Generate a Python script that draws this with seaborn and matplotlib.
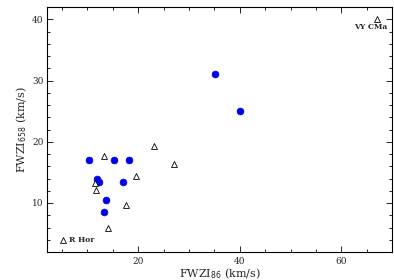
import matplotlib
matplotlib.use("Agg")
import matplotlib.pyplot as plt
import seaborn as sns
import pandas as pd
from matplotlib.ticker import MultipleLocator

circle_x = [35.1, 40.1, 10.2, 15.3, 18.1, 11.9, 12.3, 17.0, 13.7, 13.3]
circle_y = [31.0, 25.0, 17.0, 17.0, 17.0, 14.0, 13.5, 13.5, 10.5, 8.6]
tri_x = [13.3, 23.1, 27.1, 19.6, 11.5, 11.7, 17.6, 14.1, 5.1, 67.1]
tri_y = [17.7, 19.3, 16.4, 14.4, 13.2, 12.1, 9.7, 6.0, 4.0, 40.1]
labels = {"R Hor": (5.1, 4.0), "VY CMa": (67.1, 40.1)}

sns.set_theme(style="ticks")
plt.rcParams["font.family"] = ["DejaVu Serif"]

df_c = pd.DataFrame({"x": circle_x, "y": circle_y})
df_t = pd.DataFrame({"x": tri_x, "y": tri_y})

fig = plt.figure(figsize=(3.94, 2.80), dpi=100)
ax = fig.add_axes([0.119, 0.10, 0.876, 0.875])

sns.scatterplot(data=df_c, x="x", y="y", ax=ax, marker="o", s=24,
                color="#0000ee", edgecolor="#0000ee", linewidth=0.5, zorder=3)
sns.scatterplot(data=df_t, x="x", y="y", ax=ax, marker="^", s=18,
                facecolor="white", edgecolor="black", linewidth=0.6, zorder=3)

ax.text(labels["R Hor"][0] + 1.3, labels["R Hor"][1], "R Hor", fontsize=5.5,
        fontweight="bold", va="center", ha="left")
ax.text(labels["VY CMa"][0] - 1.4, labels["VY CMa"][1] - 0.7, "VY CMa", fontsize=5.5,
        fontweight="bold", va="top", ha="center")

ax.set_xlim(2, 70)
ax.set_ylim(2, 42)
ax.xaxis.set_major_locator(MultipleLocator(20))
ax.xaxis.set_minor_locator(MultipleLocator(5))
ax.yaxis.set_major_locator(MultipleLocator(10))
ax.yaxis.set_minor_locator(MultipleLocator(2))
ax.tick_params(which="both", direction="in", top=True, right=True,
               labelsize=6.5, width=0.6, color="black")
ax.tick_params(axis="y", pad=2.5)
ax.tick_params(which="major", length=4)
ax.tick_params(which="minor", length=2)
for s in ax.spines.values():
    s.set_linewidth(0.8)
    s.set_color("black")

ax.set_xlabel("FWZI$_{86}$ (km/s)", fontsize=8, labelpad=0.5)
ax.set_ylabel("FWZI$_{658}$ (km/s)", fontsize=8, labelpad=2)

fig.savefig("out.png", dpi=100)
